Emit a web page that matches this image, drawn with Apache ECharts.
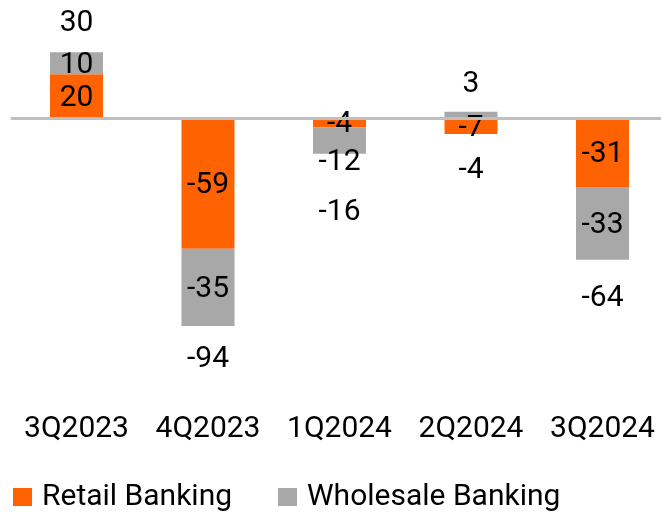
<!DOCTYPE html>
<html>
<head>
<meta charset="utf-8">
<script src="https://cdn.jsdelivr.net/npm/echarts@6/dist/echarts.min.js"></script>
<style>
  html, body { margin: 0; padding: 0; background: #fff; }
  #chart { width: 661px; height: 513px; }
</style>
</head>
<body>
<div id="chart"></div>
<script>
// Quarterly contribution by business line
const categories = ['3Q2023', '4Q2023', '1Q2024', '2Q2024', '3Q2024'];
const retail = [20, -59, -4, -7, -31];
const wholesale = [10, -35, -12, 3, -33];
const totals = [30, -94, -16, -4, -64];

// vertical nudges (px) for labels that sit away from their mark
const totalLabelShift = [-31, 32, 57, 41, 37];
const wholesaleLabelShift = [0, 0, 20, -33, 0];
const BASE_SHIFT = 2;

const FONT = 'Roboto';
const FONT_SIZE = 30;
const ORANGE = '#FF6200';
const GREY = '#A8A8A8';

const chart = echarts.init(document.getElementById('chart'), null, { renderer: 'canvas' });

const labelBase = {
  show: true, position: 'inside', color: '#000',
  fontFamily: FONT, fontSize: FONT_SIZE, offset: [0, BASE_SHIFT]
};

const legendText = { color: '#000', fontFamily: FONT, fontSize: FONT_SIZE, padding: [0, 0, 0, 5] };

chart.setOption({
  backgroundColor: '#fff',
  animation: false,
  grid: { left: 10.75, width: 657.5, top: 30.2, height: 309, outerBoundsMode: 'none', containLabel: false },
  xAxis: {
    type: 'category',
    data: categories,
    axisLine: { show: false, onZero: false },
    axisTick: { show: false },
    axisLabel: { color: '#000', fontFamily: FONT, fontSize: FONT_SIZE, margin: 75, interval: 0 }
  },
  yAxis: { type: 'value', min: -100, max: 40, show: false, splitLine: { show: false } },
  legend: [
    {
      left: 13, top: 482, padding: 0, data: ['Retail Banking'], itemWidth: 19, itemHeight: 18,
      icon: 'rect', textStyle: legendText
    },
    {
      left: 278, top: 482, padding: 0, data: ['Wholesale Banking'], itemWidth: 19, itemHeight: 18,
      icon: 'rect', textStyle: legendText
    }
  ],
  series: [
    {
      name: 'Retail Banking',
      type: 'bar',
      stack: 'total',
      barWidth: 53,
      itemStyle: { color: ORANGE },
      label: labelBase,
      data: retail,
      markLine: {
        silent: true,
        symbol: 'none',
        label: { show: false },
        lineStyle: { color: '#BFBFBF', width: 3, type: 'solid' },
        data: [{ yAxis: 0 }],
        z: 5
      }
    },
    {
      name: 'Wholesale Banking',
      type: 'bar',
      stack: 'total',
      barWidth: 53,
      itemStyle: { color: GREY },
      label: labelBase,
      data: wholesale.map((v, i) => ({
        value: v,
        label: { offset: [0, BASE_SHIFT + wholesaleLabelShift[i]] }
      }))
    },
    {
      name: 'Total',
      type: 'scatter',
      symbolSize: 1,
      itemStyle: { color: 'rgba(0,0,0,0)', opacity: 1 },
      silent: true,
      label: Object.assign({}, labelBase, { formatter: p => String(p.value) }),
      data: totals.map((v, i) => ({
        value: v,
        label: { offset: [0, BASE_SHIFT + totalLabelShift[i]] }
      }))
    }
  ]
});
</script>
</body>
</html>
